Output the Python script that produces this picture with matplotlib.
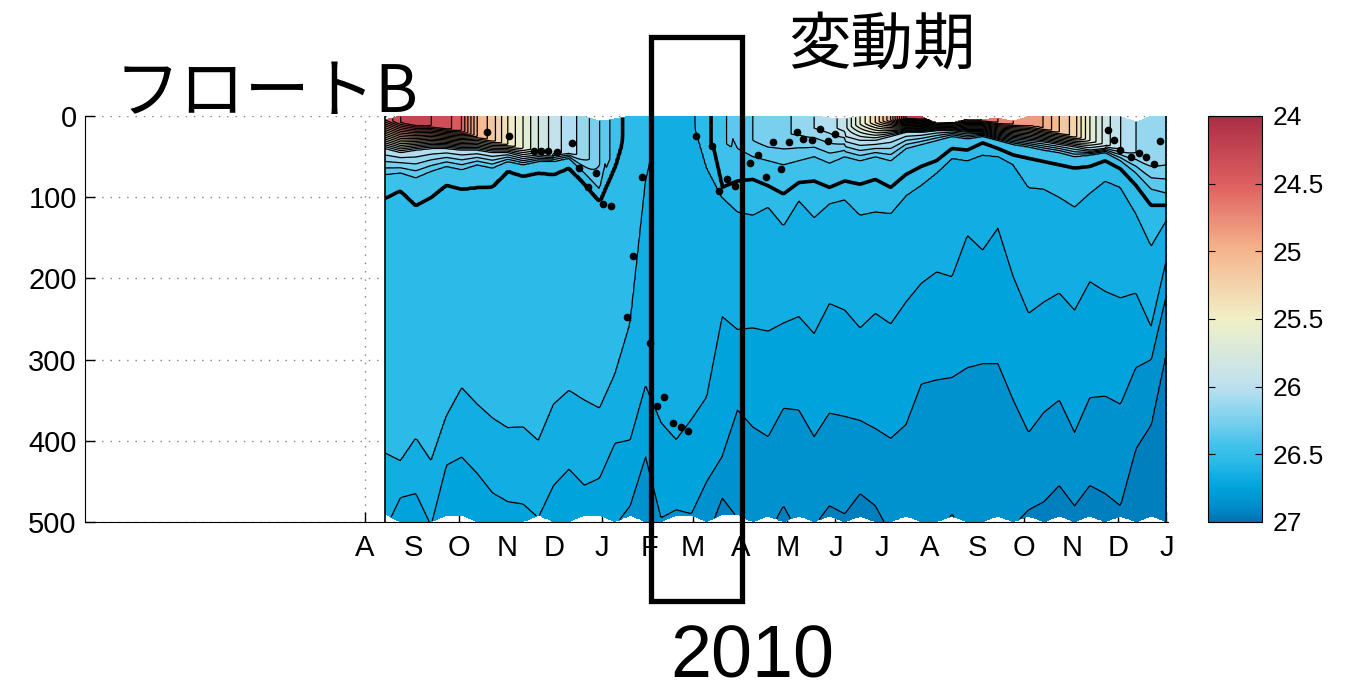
import numpy as np
import pandas as pd
import matplotlib
matplotlib.use('Agg')
import matplotlib.pyplot as plt
import matplotlib.dates as mdates
from matplotlib.colors import LinearSegmentedColormap, Normalize
from matplotlib.cm import ScalarMappable
from matplotlib.patches import Rectangle

plt.rcParams['font.family'] = ['Liberation Sans', 'Noto Sans CJK JP']

# profile dates (float B), about every 10 days
dates = pd.date_range('2009-08-14', '2011-01-01', periods=52)

# surface density and mixed layer depth (m)
s0 = [24.5, 24.3, 24.2, 24.3, 24.35, 24.5, 25.0, 25.15, 25.4, 25.6,
      25.8, 25.95, 26.05, 26.15, 26.3, 26.45, 26.55, 26.58, 26.63, 26.64,
      26.62, 26.53, 26.42, 26.35, 26.3, 26.25, 26.22, 26.18, 26.1, 26.05,
      25.95, 25.6, 25.3, 24.9, 24.2, 24.1, 24.4, 24.5, 24.6, 24.6,
      24.7, 24.8, 24.9, 24.9, 25.1, 25.25, 25.6, 25.85, 26.0, 26.1,
      26.15, 26.2]
mld = [5, 8, 10, 12, 15, 18, 25, 30, 35, 40,
       42, 45, 45, 50, 60, 50, 0, 0, 0, 0,
       0, 30, 40, 20, 30, 30, 25, 20, 15, 15,
       15, 10, 8, 5, 3, 3, 3, 3, 5, 5,
       8, 10, 12, 15, 20, 25, 30, 35, 40, 45,
       55, 60]
nan = np.nan
# depth of isopycnals (m), 0 = outcropped
d260 = [40, 45, 42, 40, 40, 42, 42, 45, 45, 50,
        48, 50, nan, nan, nan, nan, nan, nan, nan, nan,
        nan, nan, nan, nan, nan, nan, nan, nan, nan, nan,
        25, 30, 30, 25, 20, 20, 18, 18, 20, 20,
        25, 28, 30, 32, 35, 38, 42, 40, nan, nan,
        nan, nan]
d264 = [72, 70, 76, 68, 62, 66, 60, 64, 56, 60,
        56, 56, 52, 70, 90, 0, 0, 0, 0, 0,
        0, 0, 0, 40, 50, 55, 60, 55, 50, 58,
        50, 55, 50, 55, 40, 35, 30, 25, 28, 25,
        30, 35, 38, 42, 45, 50, 48, 45, 55, 70,
        90, 95]
d265 = [101, 92, 110, 100, 85, 90, 88, 87, 68, 74,
        70, 72, 64, 83, 105, 62, 0, 0, 0, 0,
        0, 0, 88, 80, 78, 86, 96, 82, 80, 88,
        80, 84, 78, 88, 72, 62, 55, 40, 42, 33,
        40, 48, 52, 56, 60, 64, 62, 55, 65, 85,
        110, 110]
d266 = [415, 425, 397, 425, 370, 335, 355, 372, 384, 383,
        400, 355, 338, 350, 360, 318, 255, 80, 0, 0,
        0, 64, 100, 118, 122, 112, 135, 104, 125, 108,
        103, 122, 118, 120, 98, 85, 70, 52, 55, 48,
        50, 60, 88, 90, 100, 112, 95, 80, 88, 120,
        160, 128]
d267 = [510, 470, 465, 505, 430, 420, 440, 464, 475, 478,
        495, 455, 435, 455, 446, 403, 399, 333, 378, 399,
        374, 346, 247, 263, 261, 265, 255, 247, 268, 231,
        239, 261, 243, 256, 229, 206, 192, 198, 147, 165,
        138, 198, 243, 229, 218, 239, 204, 216, 224, 218,
        260, 177]
d268 = [540, 520, 515, 540, 520, 515, 520, 530, 530, 530,
        530, 520, 510, 505, 510, 505, 480, 420, 495, 485,
        490, 450, 420, 362, 383, 395, 360, 362, 395, 366,
        370, 375, 385, 397, 380, 330, 325, 322, 310, 305,
        305, 350, 390, 365, 350, 390, 347, 345, 355, 310,
        300, 220]
d269 = [560, 560, 560, 560, 560, 560, 560, 560, 560, 560,
        560, 560, 560, 560, 560, 560, 545, 510, 560, 560,
        540, 520, 470, 495, 520, 515, 480, 515, 505, 480,
        490, 465, 480, 515, 520, 520, 520, 490, 520, 515,
        510, 505, 485, 475, 455, 480, 455, 465, 480, 410,
        380, 290]
# first / last valid depth of each profile
top_gap = [4, 0, 0, 0, 0, 0, 0, 0, 0, 0,
           0, 0, 0, 0, 6, 3, 0, 0, 0, 0,
           0, 0, 0, 0, 0, 0, 0, 0, 0, 2,
           3, 0, 0, 0, 0, 0, 8, 8, 3, 4,
           2, 6, 0, 0, 0, 0, 0, 0, 0, 7,
           0, 0]
bottom = [491, 500, 500, 500, 492, 492, 500, 500, 500, 500,
          492, 500, 500, 492, 492, 500, 492, 500, 500, 492,
          492, 500, 491, 491, 500, 493, 500, 493, 500, 493,
          500, 493, 500, 500, 493, 500, 500, 493, 500, 500,
          493, 500, 493, 500, 493, 500, 493, 500, 493, 500,
          493, 500]

# mixed layer depth markers
dot_dates = ['2009-10-19', '2009-11-02', '2009-11-18', '2009-11-23', '2009-11-27',
             '2009-12-03', '2009-12-13', '2009-12-17', '2009-12-23', '2009-12-28',
             '2010-01-02', '2010-01-07', '2010-01-17', '2010-01-21', '2010-01-27',
             '2010-02-01', '2010-02-06', '2010-02-10', '2010-02-16', '2010-02-21',
             '2010-02-26', '2010-03-03', '2010-03-13', '2010-03-18', '2010-03-23',
             '2010-03-28', '2010-04-07', '2010-04-12', '2010-04-17', '2010-04-22',
             '2010-04-27', '2010-05-02', '2010-05-07', '2010-05-11', '2010-05-17',
             '2010-05-22', '2010-05-27', '2010-06-01', '2010-11-24', '2010-11-28',
             '2010-12-02', '2010-12-09', '2010-12-14', '2010-12-19', '2010-12-24',
             '2010-12-28']
dot_depths = [20, 25, 43, 43, 43, 44, 33, 64, 87, 70,
              108, 111, 248, 172, 75, 280, 357, 346, 378, 383,
              388, 25, 37, 92, 78, 86, 58, 48, 75, 32,
              65, 32, 20, 28, 30, 16, 31, 22, 17, 30,
              42, 50, 45, 50, 59, 31]

cb_ticks = [24, 24.5, 25, 25.5, 26, 26.5, 27]
month_ticks = pd.date_range('2009-08-01', '2011-01-01', freq='MS')
month_labels = [d.strftime('%b')[0] for d in month_ticks]

cmap = LinearSegmentedColormap.from_list('sig', [
    (0.0, (170/255, 45/255, 70/255)),
    (0.5/3, (222/255, 95/255, 95/255)),
    (1.0/3, (245/255, 182/255, 142/255)),
    (1.5/3, (240/255, 240/255, 200/255)),
    (2.0/3, (190/255, 225/255, 240/255)),
    (2.3/3, (110/255, 205/255, 238/255)),
    (2.45/3, (62/255, 192/255, 234/255)),
    (2.55/3, (45/255, 187/255, 232/255)),
    (2.65/3, (20/255, 175/255, 228/255)),
    (2.75/3, (0/255, 163/255, 220/255)),
    (2.85/3, (0/255, 148/255, 208/255)),
    (2.95/3, (0/255, 128/255, 192/255)),
    (1.0, (5/255, 112/255, 175/255))])
norm = Normalize(24, 27)

# density section: columns on a finer time grid, isopycnal depths
# carried between profiles so the lines stay straight segments
X = mdates.date2num(dates)
Xf = np.linspace(X[0], X[-1], 520)
z = np.arange(0, 501, 1.0)
fi = lambda a: np.interp(Xf, X, np.asarray(a, dtype=float))
s0f, mldf, d260f = fi(s0), fi(mld), fi(d260)
iso_lev = [26.4, 26.5, 26.6, 26.7, 26.8, 26.9]
iso_dep = [fi(a) for a in [d264, d265, d266, d267, d268, d269]]
sig = np.zeros((len(z), len(Xf)))
for k in range(len(Xf)):
    zs, ss = [0.0], [s0f[k]]
    if mldf[k] > 0:
        zs.append(mldf[k]); ss.append(s0f[k])
    if s0f[k] < 26.0 and not np.isnan(d260f[k]) and d260f[k] > zs[-1]:
        zs.append(d260f[k]); ss.append(26.0)
    for lev, dep in zip(iso_lev, iso_dep):
        if lev > ss[-1] and dep[k] > zs[-1] + 0.5:
            zs.append(dep[k]); ss.append(lev)
    zs.append(620.0); ss.append(27.0)
    sig[:, k] = np.interp(z, zs, ss)
topf, botf = fi(top_gap), fi(bottom)
mask = (z[:, None] < topf[None, :]) | (z[:, None] > botf[None, :])
sig = np.ma.masked_array(sig, mask)

fig = plt.figure(figsize=(13.45, 6.95), dpi=100)
ax = fig.add_axes([85/1345, 1-522/695, 1083/1345, 406/695])
ax.set_axisbelow(True)
levels = np.round(np.arange(24.0, 27.01, 0.1), 2)
ax.contourf(Xf, z, sig, levels=levels, cmap=cmap, norm=norm, zorder=1)
ax.contour(Xf, z, sig, levels=[l for l in levels if l != 26.5], colors='k', linewidths=0.9, zorder=2)
ax.contour(Xf, z, sig, levels=[26.5], colors='k', linewidths=2.6, zorder=2)
ax.plot([X[0], X[0]], [0, 500], color='k', lw=1.2, zorder=3)
ax.plot([X[-1], X[-1]], [0, 500], color='k', lw=1.2, zorder=3)
ax.plot(mdates.date2num(pd.to_datetime(dot_dates)), dot_depths, 'o', color='k', ms=4.5, zorder=4)

ax.set_xlim(mdates.date2num(pd.Timestamp('2009-02-01')), mdates.date2num(pd.Timestamp('2011-01-02')))
ax.set_ylim(500, 0)
ax.set_yticks([0, 100, 200, 300, 400, 500])
ax.set_xticks(mdates.date2num(month_ticks))
ax.set_xticklabels(month_labels)
ax.tick_params(direction='in', length=7, labelsize=21, width=1)
ax.tick_params(axis='x', pad=9)
ax.tick_params(axis='y', pad=6)
ax.grid(True, linestyle=(0, (1, 5)), color='0.5', linewidth=1)
ax.spines['top'].set_visible(False)
ax.spines['right'].set_visible(False)

cax = fig.add_axes([1208/1345, 1-522/695, 54/1345, 406/695])
cb = fig.colorbar(ScalarMappable(norm=norm, cmap=cmap), cax=cax, ticks=cb_ticks)
cax.invert_yaxis()
cb.ax.set_yticklabels(['%g' % t for t in cb_ticks])
cax.tick_params(direction='in', length=5, labelsize=19, pad=8, left=True)

cjk = ['Noto Sans CJK JP', 'DejaVu Sans']
fig.text(115/1345, 1-94/695, 'フロートB', fontsize=47, family=cjk, ha='left', va='center')
fig.text(882/1345, 1-46/695, '変動期', fontsize=45, family=cjk, ha='center', va='center')
fig.text(752/1345, 1-693/695, '2010', fontsize=53, family=['Liberation Sans'], ha='center', va='bottom')
fig.add_artist(Rectangle((651/1345, 1-601/695), 91/1345, 564/695, transform=fig.transFigure,
                         fill=False, edgecolor='k', linewidth=3.8))

fig.savefig('out.png', dpi=100)
